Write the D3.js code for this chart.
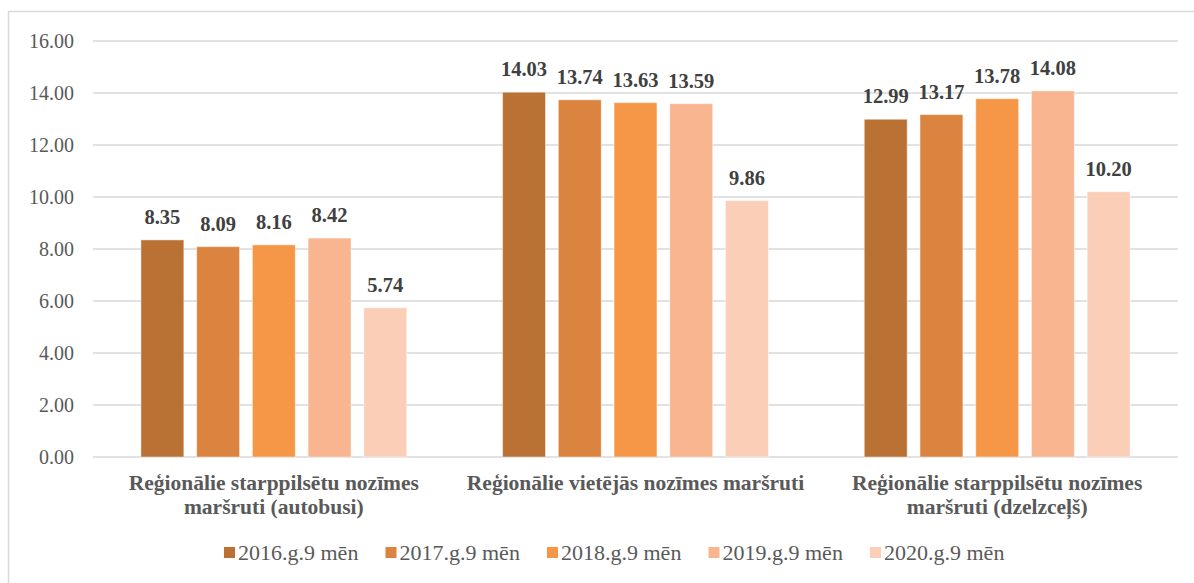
<!DOCTYPE html>
<html>
<head>
<meta charset="utf-8">
<script src="https://cdn.jsdelivr.net/npm/d3@7"></script>
<style>
  body { margin: 0; background: #fff; }
  text { font-family: "Liberation Serif", "Times New Roman", serif; }
</style>
</head>
<body>
<div id="chart"></div>
<script>
// categories (x axis groups)
const categories = [
  "Reģionālie starppilsētu nozīmes maršruti (autobusi)",
  "Reģionālie vietējās nozīmes maršruti",
  "Reģionālie starppilsētu nozīmes maršruti (dzelzceļš)"
];
// series names + values, one array per period
const seriesNames = ["2016.g.9 mēn", "2017.g.9 mēn", "2018.g.9 mēn", "2019.g.9 mēn", "2020.g.9 mēn"];
const v2016 = [8.35, 14.03, 12.99];
const v2017 = [8.09, 13.74, 13.17];
const v2018 = [8.16, 13.63, 13.78];
const v2019 = [8.42, 13.59, 14.08];
const v2020 = [5.74, 9.86, 10.20];
const yTicks = [0, 2, 4, 6, 8, 10, 12, 14, 16];

const seriesValues = [v2016, v2017, v2018, v2019, v2020];
const colors = ["#BA7134", "#DA843F", "#F69747", "#F8B58F", "#FBCEB8"];

const W = 1194, H = 583;
const svg = d3.select("#chart").append("svg").attr("width", W).attr("height", H);

// outer chart frame (runs off the right/bottom edge like the screenshot)
svg.append("rect").attr("x", 8.5).attr("y", 11.5).attr("width", 1230).attr("height", 620)
  .attr("fill", "none").attr("stroke", "#d9d9d9").attr("stroke-width", 1.5);

const plotL = 93, plotR = 1178;
const y = d3.scaleLinear().domain([0, 16]).range([457, 41]);
const x0 = d3.scaleBand().domain(categories).range([plotL, plotR]);
const x1 = d3.scaleBand().domain(seriesNames).range([0, x0.bandwidth()])
  .paddingInner(0.23).paddingOuter(0.86);

// gridlines
svg.append("g").selectAll("line").data(yTicks).enter().append("line")
  .attr("x1", plotL).attr("x2", plotR)
  .attr("y1", d => y(d)).attr("y2", d => y(d))
  .attr("stroke", "#d9d9d9").attr("stroke-width", 1.5);

// y axis labels
const yAxis = svg.append("g").attr("transform", "translate(74,0)")
  .call(d3.axisLeft(y).tickValues(yTicks).tickFormat(d3.format(".2f")).tickSize(0).tickPadding(0));
yAxis.select(".domain").remove();
yAxis.selectAll("text").attr("font-family", "Liberation Serif").attr("font-size", 20).attr("fill", "#595959");

// bars
const rows = [];
categories.forEach((c, ci) => {
  seriesNames.forEach((s, si) => rows.push({ cat: c, name: s, value: seriesValues[si][ci], color: colors[si] }));
});

const bars = svg.append("g").selectAll("g").data(rows).enter().append("g")
  .attr("transform", d => "translate(" + (x0(d.cat) + x1(d.name)) + ",0)");
bars.append("rect")
  .attr("x", 0).attr("width", x1.bandwidth())
  .attr("y", d => y(d.value)).attr("height", d => y(0) - y(d.value))
  .attr("fill", d => d.color).attr("stroke", "rgba(255,255,255,0.45)").attr("stroke-width", 1);
bars.append("text")
  .attr("x", x1.bandwidth() / 2).attr("y", d => y(d.value) - 16)
  .attr("text-anchor", "middle").attr("font-size", 20.5).attr("font-weight", "bold").attr("fill", "#404040")
  .text(d => d3.format(".2f")(d.value));

// category labels, wrapped to the group width
const catG = svg.append("g").selectAll("text").data(categories).enter().append("text")
  .attr("x", d => x0(d) + x0.bandwidth() / 2).attr("y", 490)
  .attr("text-anchor", "middle").attr("font-size", 21.5).attr("font-weight", "bold").attr("fill", "#595959");
catG.each(function(d) {
  const t = d3.select(this);
  const words = d.split(" ");
  let line = [];
  let ts = t.append("tspan").attr("x", x0(d) + x0.bandwidth() / 2).attr("dy", 0);
  words.forEach(w => {
    line.push(w);
    ts.text(line.join(" "));
    if (ts.node().getComputedTextLength() > x0.bandwidth() - 8 && line.length > 1) {
      line.pop();
      ts.text(line.join(" "));
      line = [w];
      ts = t.append("tspan").attr("x", x0(d) + x0.bandwidth() / 2).attr("dy", 24).text(w);
    }
  });
});

// legend
const legend = svg.append("g").selectAll("g").data(seriesNames).enter().append("g")
  .attr("transform", (d, i) => "translate(" + (224 + i * 161.5) + ",553)");
legend.append("rect").attr("x", 0).attr("y", -6).attr("width", 11).attr("height", 11)
  .attr("fill", (d, i) => colors[i]);
legend.append("text").attr("x", 14).attr("y", 7)
  .attr("font-size", 22).attr("fill", "#595959").text(d => d);
</script>
</body>
</html>
